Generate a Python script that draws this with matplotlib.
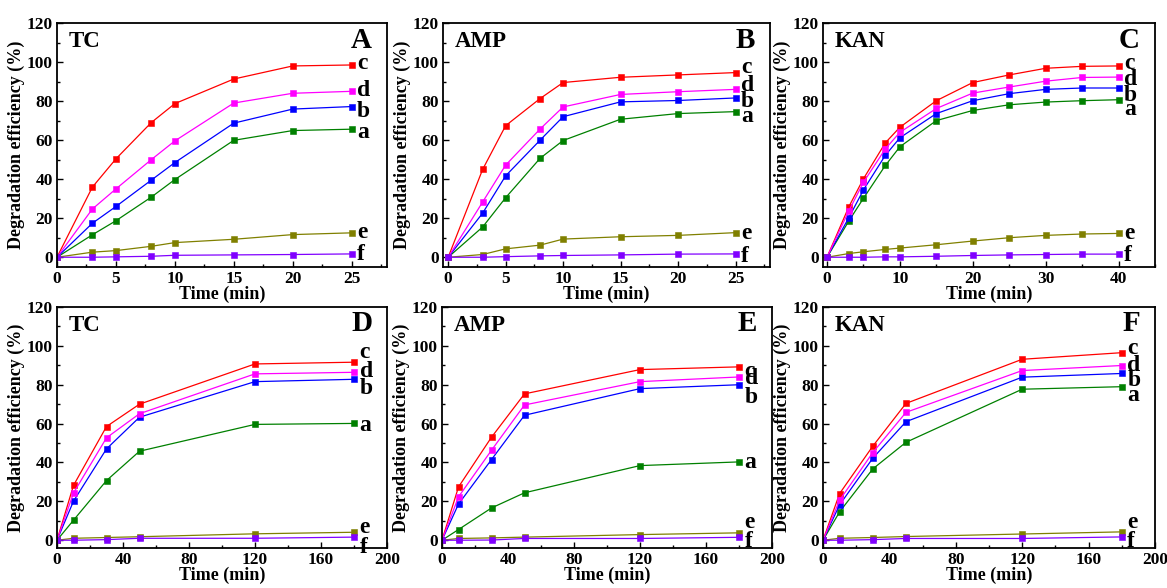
import matplotlib.pyplot as plt
from matplotlib.ticker import MultipleLocator

plt.rcParams['font.family'] = 'Liberation Serif'
plt.rcParams['font.weight'] = 'bold'

# czasy pomiarow (min)
t_short = [0, 3, 5, 8, 10, 15, 20, 25]
t_kan = [0, 3, 5, 8, 10, 15, 20, 25, 30, 35, 40]
t_long = [0, 10, 30, 50, 120, 180]

# A - TC
A_a = [0, 11.5, 18.7, 30.8, 39.8, 59.9, 64.9, 65.6]
A_b = [0, 17.4, 26.0, 39.5, 48.5, 68.7, 75.9, 77.2]
A_c = [0, 35.9, 50.4, 69.0, 78.7, 91.3, 98.0, 98.5]
A_d = [0, 24.7, 35.0, 50.0, 59.6, 79.0, 84.0, 85.0]
A_e = [0, 2.6, 3.4, 5.6, 7.5, 9.2, 11.6, 12.5]
A_f = [0, 0.0, 0.2, 0.5, 1.0, 1.2, 1.4, 1.7]

# B - AMP
B_a = [0, 15.5, 30.5, 50.7, 59.8, 70.7, 73.6, 74.6]
B_b = [0, 22.6, 41.7, 60.0, 72.0, 79.6, 80.3, 81.6]
B_c = [0, 45.0, 67.4, 81.3, 89.5, 92.2, 93.4, 94.6]
B_d = [0, 28.3, 47.2, 65.7, 77.0, 83.4, 84.8, 86.0]
B_e = [0, 1.4, 4.3, 6.2, 9.3, 10.5, 11.2, 12.6]
B_f = [0, 0.0, 0.3, 0.7, 0.9, 1.2, 1.6, 1.7]

# C - KAN
C_a = [0, 18.6, 30.2, 47.0, 56.6, 70.0, 75.2, 78.1, 79.5, 80.2, 80.7]
C_b = [0, 20.3, 34.5, 52.2, 61.2, 73.6, 80.2, 83.8, 86.0, 86.7, 86.7]
C_c = [0, 25.9, 40.2, 58.6, 66.6, 80.2, 89.5, 93.4, 96.8, 97.8, 98.0]
C_d = [0, 23.8, 38.4, 55.5, 64.0, 76.2, 84.1, 87.2, 90.2, 92.1, 92.3]
C_e = [0, 1.9, 2.8, 4.0, 4.7, 6.4, 8.3, 10.0, 11.2, 11.9, 12.2]
C_f = [0, 0.0, 0.0, 0.2, 0.2, 0.5, 0.9, 1.2, 1.4, 1.6, 1.6]

# D - TC
D_a = [0, 10.3, 30.7, 45.8, 59.6, 60.1]
D_b = [0, 20.1, 47.0, 63.3, 81.6, 82.8]
D_c = [0, 28.2, 58.5, 70.0, 90.7, 91.6]
D_d = [0, 24.3, 52.7, 65.1, 85.6, 86.4]
D_e = [0, 1.0, 1.4, 1.8, 3.3, 4.1]
D_f = [0, 0.0, 0.3, 1.0, 1.0, 1.6]

# E - AMP
E_a = [0, 5.5, 16.6, 24.4, 38.4, 40.3]
E_b = [0, 18.6, 41.5, 64.3, 78.0, 80.0]
E_c = [0, 27.4, 53.0, 75.3, 87.8, 89.2]
E_d = [0, 22.3, 46.3, 69.6, 81.6, 84.0]
E_e = [0, 0.9, 1.2, 1.6, 2.9, 3.8]
E_f = [0, 0.0, 0.1, 0.9, 0.9, 1.5]

# F - KAN
F_a = [0, 14.6, 36.7, 50.4, 77.7, 79.0]
F_b = [0, 18.2, 42.2, 61.0, 83.9, 85.8]
F_c = [0, 24.0, 48.4, 70.4, 93.1, 96.5]
F_d = [0, 20.6, 45.1, 65.8, 87.3, 89.9]
F_e = [0, 1.0, 1.4, 1.9, 3.2, 4.3]
F_f = [0, 0.0, 0.3, 0.9, 0.9, 1.7]

serie = ['a', 'b', 'c', 'd', 'e', 'f']
kolory = {'a': '#008000', 'b': '#0000ff', 'c': '#ff0000',
          'd': '#ff00ff', 'e': '#808000', 'f': '#8000ff'}

panele = [
    ('A', 'TC', t_short, [A_a, A_b, A_c, A_d, A_e, A_f]),
    ('B', 'AMP', t_short, [B_a, B_b, B_c, B_d, B_e, B_f]),
    ('C', 'KAN', t_kan, [C_a, C_b, C_c, C_d, C_e, C_f]),
    ('D', 'TC', t_long, [D_a, D_b, D_c, D_d, D_e, D_f]),
    ('E', 'AMP', t_long, [E_a, E_b, E_c, E_d, E_e, E_f]),
    ('F', 'KAN', t_long, [F_a, F_b, F_c, F_d, F_e, F_f]),
]

# polozenia osi w pikselach (lewo, gora, prawo, dol)
W, H = 1167, 588
ramki = {'A': (57, 23, 387, 267), 'B': (443, 23, 770, 267), 'C': (823, 23, 1155, 267),
         'D': (57, 307, 387, 548), 'E': (442, 307, 772, 548), 'F': (823, 307, 1155, 548)}
zakresX = {'A': (0, 28), 'B': (-0.45, 28), 'C': (-0.55, 45),
           'D': (0, 200), 'E': (0, 200), 'F': (0, 200)}
# wysokosc podpisow krzywych (a, b, c, d, e, f)
podpisy = {'A': [64, 74.5, 99.5, 85.5, 12.5, 1.5],
           'B': [72, 80, 97, 88, 12, 0.5],
           'C': [75.5, 83, 99.5, 91, 12, 1],
           'D': [59, 78, 96.5, 87, 6.5, -3.5],
           'E': [40, 73.5, 87, 83, 9, -0.5],
           'F': [74.5, 82, 98.5, 90, 9, -0.5]}

fig = plt.figure(figsize=(W / 100, H / 100), dpi=100)

for litera, nazwa, t, dane in panele:
    l, g, p, d = ramki[litera]
    ax = fig.add_axes([l / W, 1 - d / H, (p - l) / W, (d - g) / H])
    for s, y in zip(serie, dane):
        ax.plot(t, y, '-s', color=kolory[s], lw=0.9, ms=4.8, mec=kolory[s], mew=0.4)
    for s, yl in zip(serie, podpisy[litera]):
        ax.annotate(s, xy=(t[-1], yl), xytext=(4, 0), textcoords='offset points',
                    ha='left', va='center', fontsize=17, fontweight='bold')

    ax.set_xlim(*zakresX[litera])
    if litera in 'ABC':
        ax.set_ylim(-5, 120)
        ax.xaxis.set_major_locator(MultipleLocator(10 if litera == 'C' else 5))
        ax.xaxis.set_minor_locator(MultipleLocator(5 if litera == 'C' else 2.5))
    else:
        ax.set_ylim(-4, 120)
        ax.xaxis.set_major_locator(MultipleLocator(40))
        ax.xaxis.set_minor_locator(MultipleLocator(20))
    ax.yaxis.set_major_locator(MultipleLocator(20))
    ax.yaxis.set_minor_locator(MultipleLocator(10))

    ax.tick_params(which='both', direction='in', top=False, right=False,
                   labelsize=12.5, width=1.0, pad=3)
    ax.tick_params(which='major', length=4)
    ax.tick_params(which='minor', length=2.5)
    for sp in ax.spines.values():
        sp.set_linewidth(1.3)

    ax.set_xlabel('Time (min)', fontsize=13, fontweight='bold', labelpad=-1)
    ax.set_ylabel('Degradation efficiency (%)', fontsize=13, fontweight='bold', labelpad=1)
    ax.text(0.035, 0.925, nazwa, transform=ax.transAxes, fontsize=16.5, fontweight='bold',
            ha='left', va='center')
    ax.text(0.955, 0.93, litera, transform=ax.transAxes, fontsize=21, fontweight='bold',
            ha='right', va='center')

fig.savefig('out.png', dpi=100)
